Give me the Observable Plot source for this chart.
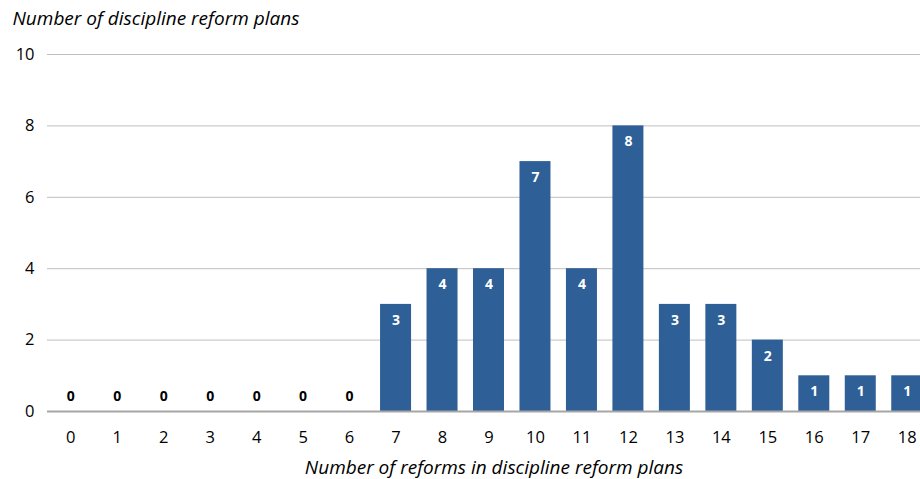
<!DOCTYPE html>
<html>
<head>
<meta charset="utf-8">
<script src="https://cdn.jsdelivr.net/npm/d3@7"></script>
<script src="https://cdn.jsdelivr.net/npm/@observablehq/plot@0.6"></script>
<style>
  html, body { margin: 0; padding: 0; background: #fff; overflow: hidden; }
  #chart svg { font-family: "Open Sans", sans-serif; display: block; }
</style>
</head>
<body>
<div id="chart"></div>
<script>
const categories = ["0","1","2","3","4","5","6","7","8","9","10","11","12","13","14","15","16","17","18"];
const counts = [0,0,0,0,0,0,0,3,4,4,7,4,8,3,3,2,1,1,1];
const yTicks = [0,2,4,6,8,10];
const yTitle = "Number of discipline reform plans";
const xTitle = "Number of reforms in discipline reform plans";

const data = categories.map((c, i) => ({cat: c, n: counts[i]}));

const chart = Plot.plot({
  width: 920,
  height: 479,
  marginLeft: 47,
  marginRight: 0,
  marginTop: 54,
  marginBottom: 68,
  style: {fontFamily: "'Open Sans', sans-serif", fontSize: "16px", color: "#000", background: "#fff", overflow: "hidden"},
  x: {type: "band", domain: categories, range: [47, 930], round: false, paddingInner: 0.333, paddingOuter: 0.167, label: null, tickSize: 0, tickPadding: 19},
  y: {domain: [0, 10], label: null},
  marks: [
    Plot.gridY(yTicks, {stroke: "#bfbfbf", strokeOpacity: 1, strokeWidth: 1}),
    Plot.axisY(yTicks, {tickSize: 0, tickPadding: 13, fontSize: 16.5, fill: "#000", label: null}),
    Plot.axisX({tickSize: 0, tickPadding: 20, fontSize: 16.5, fill: "#000", label: null}),
    Plot.barY(data, {x: "cat", y: "n", fill: "#2E5F96"}),
    Plot.ruleY([0], {stroke: "#a6a6a6", strokeWidth: 2}),
    Plot.text(data.filter(d => d.n > 0), {x: "cat", y: "n", text: d => String(d.n), fill: "#fff", fontWeight: "bold", fontSize: 14, dy: 16}),
    Plot.text(data.filter(d => d.n === 0), {x: "cat", y: "n", text: d => String(d.n), fill: "#000", fontWeight: "bold", fontSize: 14, dy: -15}),
    Plot.text([yTitle], {frameAnchor: "top-left", text: d => d, dx: -35, dy: -43, fontStyle: "italic", fontSize: 19, textAnchor: "start", fill: "#000"}),
    Plot.text([xTitle], {frameAnchor: "bottom", text: d => d, dx: 10, dy: 62, fontStyle: "italic", fontSize: 19, fill: "#000"})
  ]
});
document.getElementById("chart").appendChild(chart);
</script>
</body>
</html>
